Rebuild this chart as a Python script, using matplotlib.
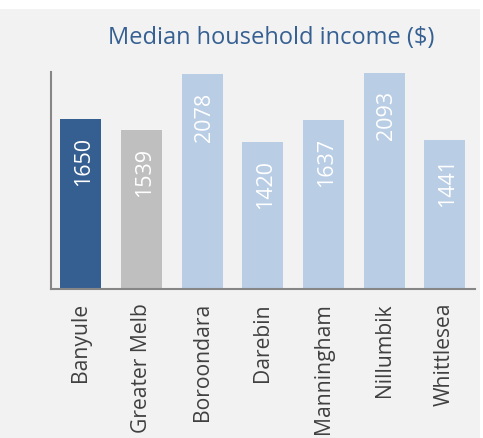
import matplotlib.pyplot as plt
from matplotlib.patches import Rectangle

# data
areas = ['Banyule', 'Greater Melb', 'Boroondara', 'Darebin', 'Manningham', 'Nillumbik', 'Whittlesea']
income = [1650, 1539, 2078, 1420, 1637, 2093, 1441]
bar_colors = ['#365f91', '#bfbfbf', '#b9cde5', '#b9cde5', '#b9cde5', '#b9cde5', '#b9cde5']

plt.rcParams['font.family'] = ['Open Sans', 'DejaVu Sans']

fig = plt.figure(figsize=(4.83, 4.38), dpi=100, facecolor='white')
# grey panel (white strip on top and right)
fig.patches.append(Rectangle((0, 0), 480 / 483, 429 / 438, transform=fig.transFigure,
                             facecolor='#f2f2f2', edgecolor='none', zorder=-10))

ax = fig.add_axes([50.5 / 483, 149 / 438, 424.5 / 483, 217 / 438])
ax.set_facecolor('none')
ax.set_zorder(5)

x = range(len(areas))
bars = ax.bar(x, income, width=0.675, color=bar_colors, zorder=2)

# value labels inside top of bars
for i, v in enumerate(income):
    ax.annotate(str(v), (i, v), xytext=(2, -13), textcoords='offset points',
                rotation=90, ha='center', va='top', color='white', fontsize=15.5)

ax.set_xlim(-0.5, len(areas) - 0.5)
ax.set_ylim(0, 2100)
ax.set_xticks(list(x))
ax.set_xticklabels(areas, rotation=90, fontsize=15.2, color='#404040')
ax.tick_params(axis='x', length=0, pad=10)
ax.set_yticks([])

for s in ['top', 'right']:
    ax.spines[s].set_visible(False)
for s in ['left', 'bottom']:
    ax.spines[s].set_color('#868686')
    ax.spines[s].set_linewidth(1.5)

fig.text(271 / 483, 1 - 38 / 438, 'Median household income ($)', ha='center', va='center',
         fontsize=17, color='#366092')

fig.savefig('out.png', dpi=100, facecolor=fig.get_facecolor())
